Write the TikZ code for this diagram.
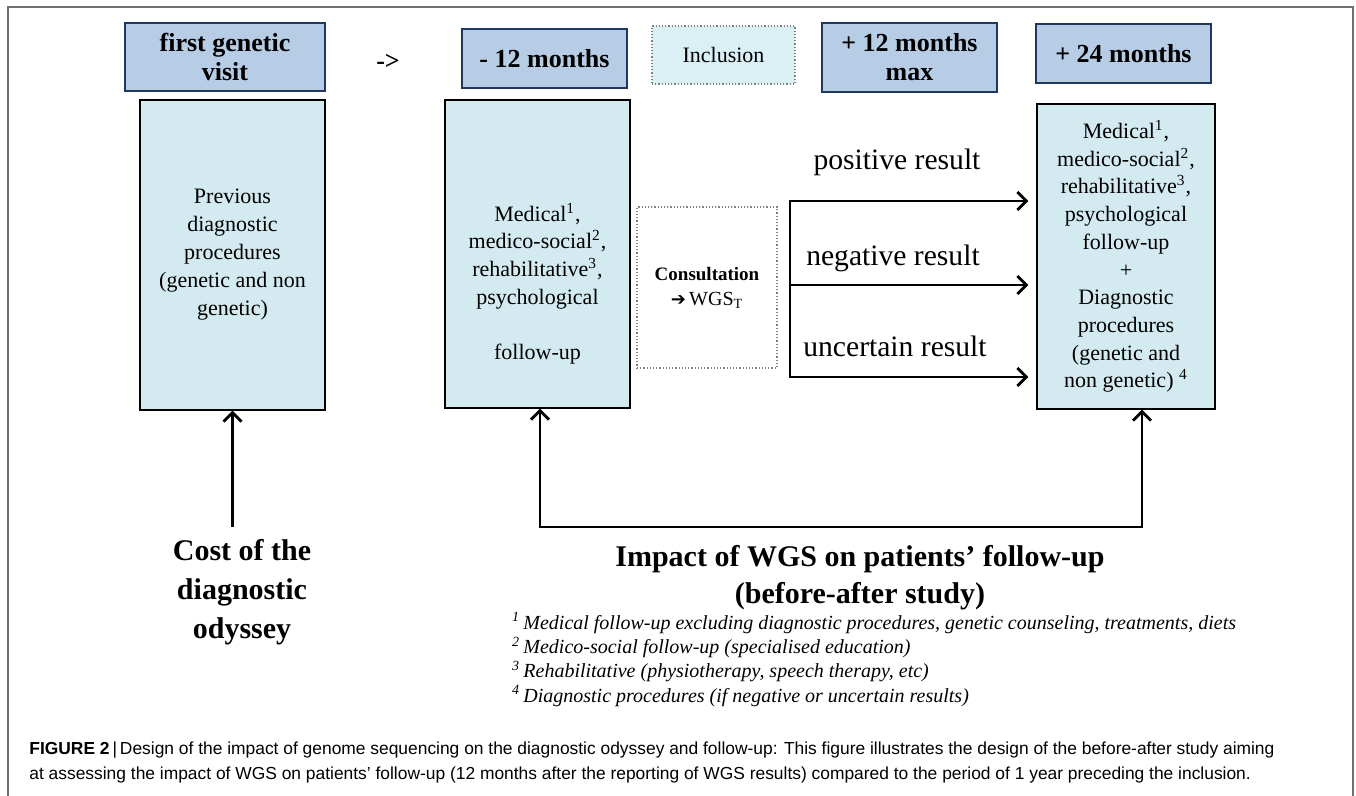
\documentclass[tikz,border=0pt]{standalone}
\usepackage{fontspec}
\setmainfont{Liberation Serif}
\newfontfamily\capfont{Liberation Sans}
\newfontfamily\symfont{DejaVu Sans}
\usetikzlibrary{arrows.meta,positioning}
\definecolor{hdrfill}{RGB}{182,205,229}
\definecolor{hdrline}{RGB}{31,56,92}
\definecolor{boxfill}{RGB}{211,235,240}
\definecolor{inclfill}{RGB}{218,240,245}
\definecolor{framegray}{RGB}{112,112,112}
\tikzset{
  hdr/.style={draw=hdrline,line width=1.4pt,fill=hdrfill,align=center,inner sep=0pt,
    font=\fontsize{13}{14.5}\selectfont\bfseries},
  pbox/.style={draw=black,line width=0.7pt,fill=boxfill,align=center,inner sep=0pt,
    font=\fontsize{11}{14}\selectfont},
  dotbox/.style={draw=gray,densely dotted,line width=0.6pt,inner sep=0pt,align=center},
  arr/.style={line width=1.4pt,-{Straight Barb[length=4.5pt,width=9pt]}},
  reslbl/.style={font=\fontsize{14.8}{17}\selectfont},
  bigbold/.style={align=center,font=\fontsize{15}{19}\selectfont\bfseries}
}

\begin{document}
\begin{tikzpicture}[x=0.5pt,y=-0.5pt]
\useasboundingbox (0,0) rectangle (1356,796);
\draw[framegray,line width=1pt] (8,796) -- (8,7) -- (1353,7) -- (1353,796);
% time line
\node[hdr,minimum width=100pt,minimum height=34pt] (visit) at (225,57) {first genetic\\visit};
\node[font=\fontsize{13}{14}\selectfont\bfseries] (to) at (388,62) {->};
\node[hdr,minimum width=82.5pt,minimum height=29.5pt] (m12) at (544.5,58.5) {- 12 months};
\node[dotbox,fill=inclfill,minimum width=71.5pt,minimum height=29pt,
  font=\fontsize{11}{13}\selectfont] (incl) at (723.5,55) {Inclusion};
\node[hdr,minimum width=87.5pt,minimum height=34.5pt] (p12) at (909.5,57.5) {+ 12 months\\max};
\node[hdr,minimum width=87.5pt,minimum height=29.5pt] (p24) at (1123.5,53.5) {+ 24 months};
% boxes
\node[pbox,minimum width=92.5pt,minimum height=155pt] (b1) at (232.5,255)
  {Previous\\diagnostic\\procedures\\(genetic and non\\genetic)};
\node[pbox,minimum width=92.5pt,minimum height=154pt] (b2) at (537.5,254) {};
\node[align=center,font=\fontsize{11}{13.8}\selectfont] (b2txt) at (537.5,283.5)
  {Medical\textsuperscript{1},\\medico-social\textsuperscript{2},\\rehabilitative\textsuperscript{3},\\psychological\\[13.8pt]follow-up};
\node[dotbox,fill=white,minimum width=70pt,minimum height=80.5pt,
  font=\fontsize{10}{12.5}\selectfont] (cons) at (707,287.5)
  {\textbf{\fontsize{9.5}{12.5}\selectfont Consultation}\\{\symfont\fontsize{9}{12.5}\selectfont ➔}\,WGS\textsubscript{T}};
\node[pbox,minimum width=89pt,minimum height=152.5pt,font=\fontsize{11}{13.85}\selectfont] (b4) at (1126,256.5)
  {Medical\textsuperscript{1},\\medico-social\textsuperscript{2},\\rehabilitative\textsuperscript{3},\\psychological\\follow-up\\+\\Diagnostic\\procedures\\(genetic and\\non genetic) \textsuperscript{4}};
% results
\coordinate (brT) at (790,201);
\coordinate (brM) at (790,285);
\coordinate (brB) at (790,377);
\draw[line width=1.4pt,line cap=rect] (brT) -- (brB);
\foreach \c in {brT,brM,brB}
  \draw[arr,shorten >=4pt] (\c) -- (\c -| b4.west);
\node[reslbl] (pos) at (897,162) {positive result};
\node[reslbl] (neg) at (893,258) {negative result};
\node[reslbl] (unc) at (895,346) {uncertain result};
% bottom
\coordinate (cs) at (232.5,527);
\coordinate (lpL) at (540,527);
\coordinate (lpR) at (1142,527);
\draw[arr] (cs) -- (b1.south);
\draw[line width=1.4pt,{Straight Barb[length=4.5pt,width=9pt]}-{Straight Barb[length=4.5pt,width=9pt]}]
  (b2.south -| lpL) -- (lpL) -- (lpR) -- (b4.south -| lpR);
\node[bigbold,font=\fontsize{15}{19.5}\selectfont\bfseries] (cost) at (242,592) {Cost of the\\diagnostic\\odyssey};
\node[bigbold,font=\fontsize{15}{18.5}\selectfont\bfseries] (impact) at (860,577.5)
  {Impact of WGS on patients’ follow-up\\(before-after study)};
\node[anchor=west,align=left,font=\fontsize{10}{12.15}\selectfont\itshape] (notes) at (505,659.5)
  {\textsuperscript{1}\,Medical follow-up excluding diagnostic procedures, genetic counseling, treatments, diets\\
   \textsuperscript{2}\,Medico-social follow-up (specialised education)\\
   \textsuperscript{3}\,Rehabilitative (physiotherapy, speech therapy, etc)\\
   \textsuperscript{4}\,Diagnostic procedures (if negative or uncertain results)};
\node[anchor=west,align=left,inner sep=0pt,font=\capfont\fontsize{8.7}{12.5}\selectfont] (cap) at (29,762.5)
  {\textbf{FIGURE 2}\,|\,Design of the impact of genome sequencing on the diagnostic odyssey and follow-up: This figure illustrates the design of the before-after study aiming\\
   at assessing the impact of WGS on patients’ follow-up (12 months after the reporting of WGS results) compared to the period of 1 year preceding the inclusion.};
\end{tikzpicture}
\end{document}
